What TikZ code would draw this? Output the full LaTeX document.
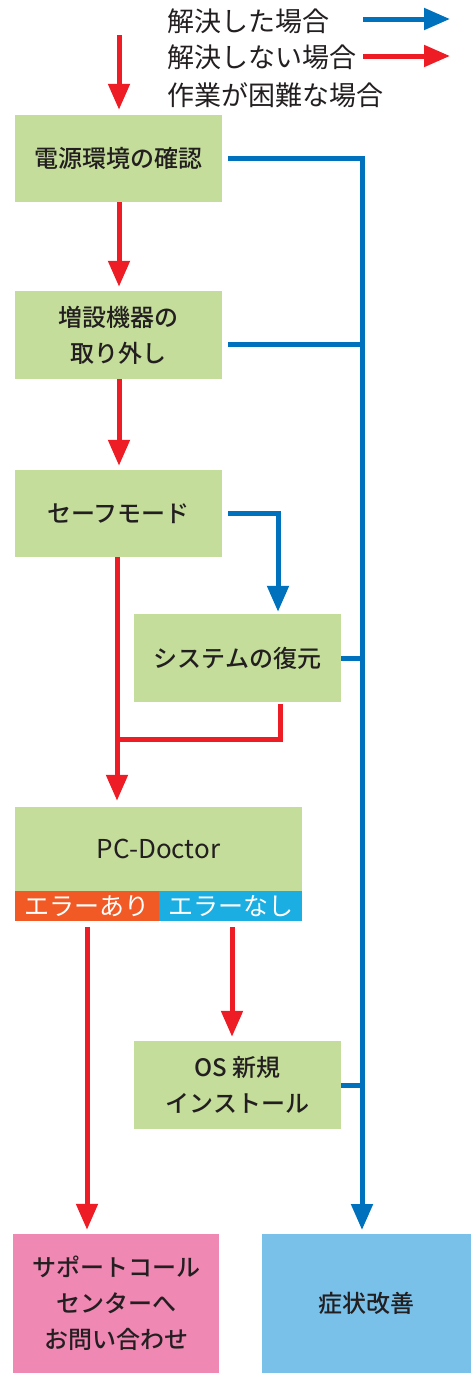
\documentclass[tikz,border=0pt]{standalone}
\usepackage{fontspec}
\setmainfont{Noto Sans CJK JP}
\newfontfamily\medfont{Noto Sans CJK JP Medium}
\usetikzlibrary{arrows.meta}
\definecolor{boxgreen}{HTML}{C4DD9A}
\definecolor{ared}{HTML}{EE1C25}
\definecolor{ablue}{HTML}{0071BC}
\definecolor{stripred}{HTML}{F15A24}
\definecolor{stripblue}{HTML}{1AAEE3}
\definecolor{boxpink}{HTML}{F088B4}
\definecolor{boxsky}{HTML}{7AC1EA}
\definecolor{txt}{HTML}{231F20}
\tikzset{
  box/.style={fill=boxgreen, text=txt, align=center, inner sep=0pt,
    font=\medfont\fontsize{24}{36}\selectfont},
  strip/.style={text=white, inner sep=0pt, font=\fontsize{25}{28}\selectfont},
  legend/.style={anchor=west, text=txt, inner sep=0pt, font=\fontsize{27}{30}\selectfont},
  conn/.style={line width=5pt, -{Triangle[length=26pt,width=21pt]}},
  plain/.style={line width=5pt},
  redc/.style={draw=ared, color=ared},
  bluec/.style={draw=ablue, color=ablue}
}
\begin{document}
\begin{tikzpicture}[x=1pt,y=-1pt]
\useasboundingbox (0,0) rectangle (471,1373);
% legend
\node[legend] (l1) at (167,21) {解決した場合};
\node[legend] (l2) at (167,57) {解決しない場合};
\node[legend] (l3) at (167,95) {作業が困難な場合};
\coordinate (l1a) at (363,19);
\coordinate (l1b) at (450,19);
\coordinate (l2a) at (363,56);
\coordinate (l2b) at (450,56);
\draw[conn,bluec] (l1a) -- (l1b);
\draw[conn,redc] (l2a) -- (l2b);
% boxes
\node[box, minimum width=207, minimum height=87] (dengen) at (118.5,158.5) {電源環境の確認};
\node[box, minimum width=207, minimum height=88] (zousetsu) at (118.5,335) {増設機器の\\取り外し};
\node[box, minimum width=207, minimum height=87] (safe) at (118.5,513.5) {セーフモード};
\node[box, minimum width=207, minimum height=88] (system) at (237.5,658) {システムの復元};
\node[box, minimum width=287, minimum height=84, font=\fontsize{26}{30}\selectfont] (pcd) at (158.5,849) {PC-Doctor};
\node[strip, fill=stripred, minimum width=144, minimum height=30] (err1) at (87,906) {エラーあり};
\node[strip, fill=stripblue, minimum width=143, minimum height=30] (err2) at (230.5,906) {エラーなし};
\node[box, minimum width=207, minimum height=88] (os) at (237.5,1085) {OS 新規\\インストール};
\node[box, fill=boxpink, minimum width=206, minimum height=139] (sapo) at (116,1303.5) {サポートコール\\センターへ\\お問い合わせ};
\node[box, fill=boxsky, minimum width=209, minimum height=139] (kaizen) at (366.5,1303.5) {症状改善};
% coordinates
\coordinate (start) at (119,35);
\coordinate (bus) at (362,1234);
\coordinate (join) at (120,739);
% red flow
\draw[conn,redc,shorten >=5pt] (start) -- (dengen.north -| start);
\draw[conn,redc,shorten >=4pt] ([xshift=0.5pt]dengen.south) -- ([xshift=0.5pt]zousetsu.north);
\draw[conn,redc,shorten >=4pt] ([xshift=0.5pt]zousetsu.south) -- ([xshift=0.5pt]safe.north);
\draw[conn,redc,shorten >=6pt] ([xshift=-1.5pt]safe.south) -- ([xshift=-1.5pt]safe.south |- pcd.north);
\draw[plain,redc] ([xshift=42.5pt,yshift=-2pt]system.south) |- (join);
\draw[conn,redc,shorten >=4pt] ([yshift=-6pt]err1.south) -- (err1.south |- sapo.north);
\draw[conn,redc,shorten >=4pt] ([xshift=1.5pt,yshift=-6pt]err2.south) -- ([xshift=1.5pt]err2.south |- os.north);
% blue flow
\draw[conn,bluec] ([xshift=6pt]safe.east) -| ([xshift=40.5pt,yshift=2pt]system.north);
\draw[conn,bluec,shorten >=4pt] ([xshift=6pt]dengen.east) -| (bus);
\draw[plain,bluec] ([xshift=6pt,yshift=-9pt]zousetsu.east) -- ([yshift=-9pt]zousetsu.east -| bus);
\draw[plain,bluec] (system.east) -- (system.east -| bus);
\draw[plain,bluec] (os.east) -- (os.east -| bus);
\end{tikzpicture}
\end{document}
